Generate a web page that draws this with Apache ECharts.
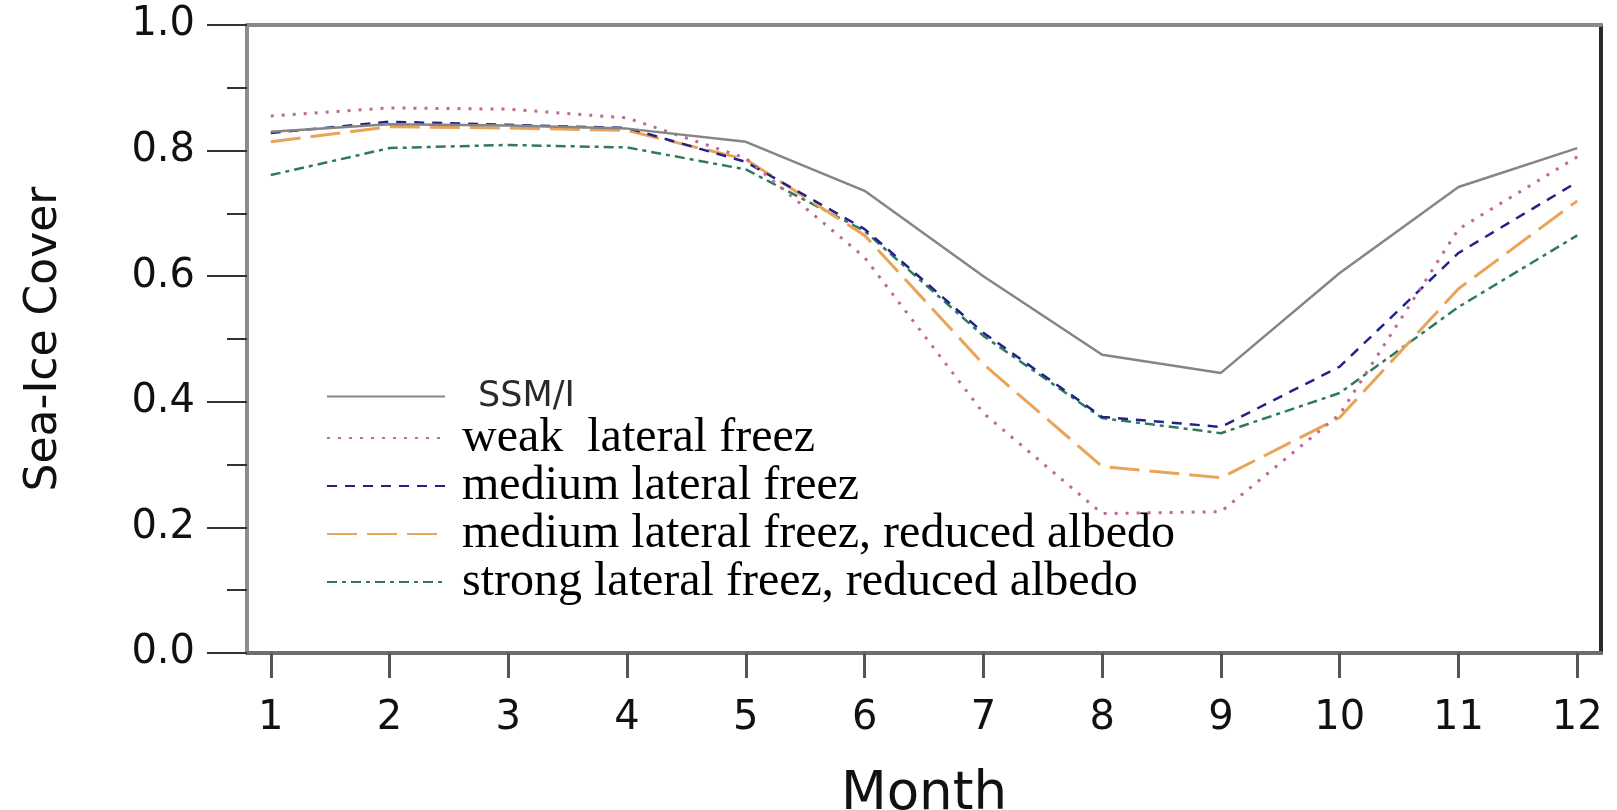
<!DOCTYPE html>
<html>
<head>
<meta charset="utf-8">
<script src="https://cdn.jsdelivr.net/npm/echarts@6/dist/echarts.min.js"></script>
<style>
html,body{margin:0;padding:0;background:#fff;}
#chart{width:1617px;height:810px;}
</style>
</head>
<body>
<div id="chart"></div>
<script>
// ---- data ----
const months = [1, 2, 3, 4, 5, 6, 7, 8, 9, 10, 11, 12];
const seriesNames = ['SSM/I', 'weak  lateral freez', 'medium lateral freez', 'medium lateral freez, reduced albedo', 'strong lateral freez, reduced albedo'];
const ssmi          = [0.830, 0.842, 0.840, 0.835, 0.814, 0.736, 0.600, 0.475, 0.446, 0.605, 0.742, 0.804];
const weakFreez     = [0.855, 0.868, 0.866, 0.852, 0.788, 0.630, 0.382, 0.222, 0.225, 0.380, 0.675, 0.790];
const mediumFreez   = [0.828, 0.846, 0.841, 0.836, 0.782, 0.675, 0.510, 0.376, 0.360, 0.456, 0.637, 0.750];
const mediumReduced = [0.814, 0.838, 0.836, 0.832, 0.786, 0.665, 0.460, 0.297, 0.279, 0.375, 0.580, 0.720];
const strongReduced = [0.761, 0.804, 0.809, 0.805, 0.770, 0.672, 0.505, 0.374, 0.350, 0.414, 0.551, 0.665];

const pair = arr => months.map((m, i) => [m, arr[i]]);

const chart = echarts.init(document.getElementById('chart'), null, {renderer: 'canvas'});

const styles = [
  {color: '#858585', type: 'solid', width: 2.5},
  {color: '#c0689a', type: [3, 8], width: 3},
  {color: '#22228a', type: [10, 8], width: 2.5},
  {color: '#e9a458', type: [30, 10], width: 3},
  {color: '#2f7a5e', type: [10, 5, 4, 5], width: 2.5}
];
const dataSets = [ssmi, weakFreez, mediumFreez, mediumReduced, strongReduced];

const option = {
  backgroundColor: '#ffffff',
  animation: false,
  grid: {left: 247, right: 16, top: 25, bottom: 157, containLabel: false, outerBoundsMode: 'none'},
  legend: {
    orient: 'vertical',
    left: 326,
    top: 379,
    padding: 0,
    itemGap: 0,
    itemWidth: 118,
    itemHeight: 14,
    data: seriesNames,
    itemStyle: {color: 'transparent', borderWidth: 0, opacity: 0},
    formatter: name => name === 'SSM/I' ? '{s|' + name + '}' : '{t|' + name + '}',
    textStyle: {
      rich: {
        s: {fontFamily: 'DejaVu Sans', fontSize: 35, color: '#2a2a2a', lineHeight: 47.5, padding: [0, 0, 0, 28]},
        t: {fontFamily: 'Liberation Serif', fontSize: 48, color: '#000', lineHeight: 47.5, padding: [0, 0, 0, 12]}
      }
    }
  },
  xAxis: [{
    type: 'value',
    min: 0.8,
    max: 12.2,
    name: 'Month',
    nameLocation: 'middle',
    nameGap: 116,
    nameTextStyle: {fontFamily: 'DejaVu Sans', fontSize: 53, color: '#111'},
    axisLine: {show: true, onZero: false, lineStyle: {color: '#6e6e6e', width: 4}},
    axisTick: {show: true, customValues: months, length: 25, inside: false, lineStyle: {color: '#555', width: 3}},
    axisLabel: {customValues: months, fontFamily: 'DejaVu Sans', fontSize: 40, color: '#111', margin: 46},
    splitLine: {show: false}
  }, {
    type: 'value',
    position: 'top',
    min: 0.8,
    max: 12.2,
    axisLine: {show: true, onZero: false, lineStyle: {color: '#8a8a8a', width: 4}},
    axisTick: {show: false},
    axisLabel: {show: false},
    splitLine: {show: false}
  }],
  yAxis: [{
    type: 'value',
    min: 0,
    max: 1,
    interval: 0.2,
    name: 'Sea-Ice Cover',
    nameLocation: 'middle',
    nameRotate: 90,
    nameGap: 180,
    nameTextStyle: {fontFamily: 'DejaVu Sans', fontSize: 44, color: '#111'},
    axisLine: {show: true, onZero: false, lineStyle: {color: '#8c8c8c', width: 4}},
    axisTick: {show: true, length: 40, lineStyle: {color: '#333', width: 2}},
    minorTick: {show: true, splitNumber: 2, length: 20, lineStyle: {color: '#333', width: 2}},
    axisLabel: {fontFamily: 'DejaVu Sans', fontSize: 40, color: '#111', margin: 52,
      formatter: v => v.toFixed(1)},
    splitLine: {show: false},
    minorSplitLine: {show: false}
  }, {
    type: 'value',
    position: 'right',
    min: 0,
    max: 1,
    axisLine: {show: true, onZero: false, lineStyle: {color: '#2a2a2a', width: 4}},
    axisTick: {show: false},
    axisLabel: {show: false},
    splitLine: {show: false}
  }],
  series: seriesNames.map((name, i) => ({
    name: name,
    type: 'line',
    xAxisIndex: 0,
    yAxisIndex: 0,
    data: pair(dataSets[i]),
    symbol: 'none',
    showSymbol: false,
    smooth: false,
    lineStyle: styles[i],
    itemStyle: {color: styles[i].color},
    z: 2 + (4 - i)
  }))
};
chart.setOption(option);
</script>
</body>
</html>
